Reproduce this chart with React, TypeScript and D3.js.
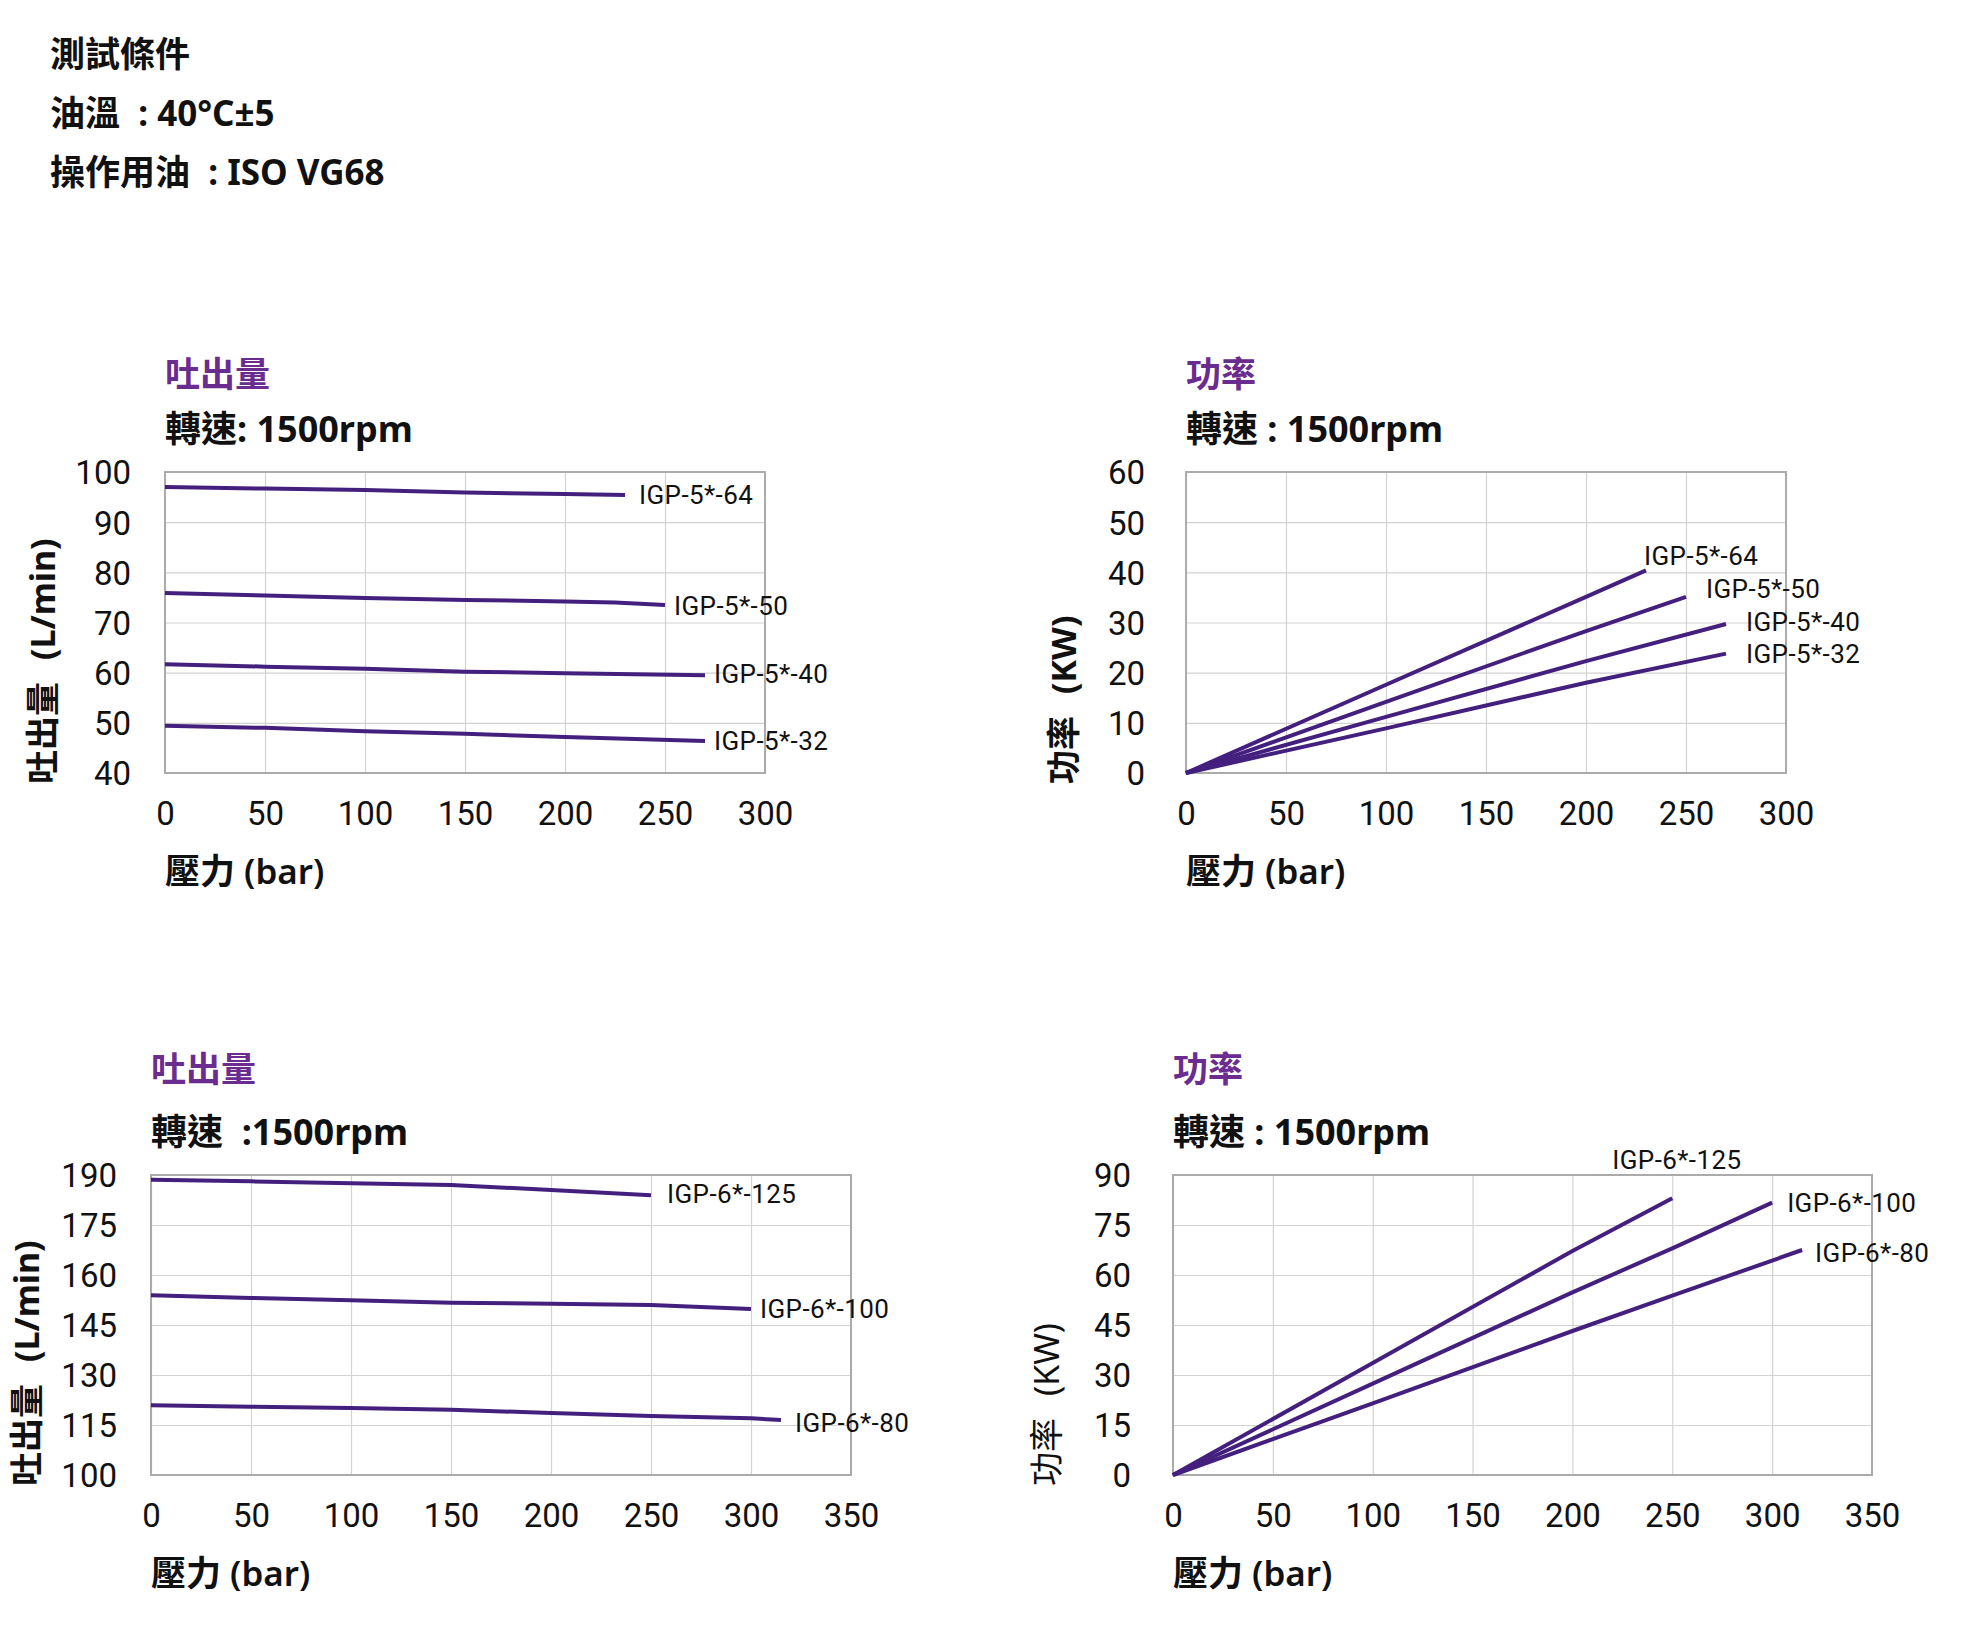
import React, { useEffect, useRef } from "react";
import * as d3 from "d3";

type Pt = [number, number];

// header text
const conditionLines = ["測試條件", "油溫  : 40°C±5", "操作用油  : ISO VG68"];

// tick values
const pressureTicks300 = [0, 50, 100, 150, 200, 250, 300];
const pressureTicks350 = [0, 50, 100, 150, 200, 250, 300, 350];
const flowTicks5 = [40, 50, 60, 70, 80, 90, 100];
const powerTicks5 = [0, 10, 20, 30, 40, 50, 60];
const flowTicks6 = [100, 115, 130, 145, 160, 175, 190];
const powerTicks6 = [0, 15, 30, 45, 60, 75, 90];

const seriesNames5 = ["IGP-5*-64", "IGP-5*-50", "IGP-5*-40", "IGP-5*-32"];
const seriesNames6 = ["IGP-6*-125", "IGP-6*-100", "IGP-6*-80"];

// discharge (L/min) vs pressure (bar), IGP-5
const flow5_64: Pt[] = [[0, 97], [50, 96.7], [100, 96.4], [150, 95.9], [200, 95.6], [230, 95.4]];
const flow5_50: Pt[] = [[0, 75.9], [50, 75.4], [100, 74.9], [150, 74.5], [200, 74.2], [225, 74.0], [250, 73.5]];
const flow5_40: Pt[] = [[0, 61.7], [50, 61.2], [100, 60.8], [150, 60.2], [200, 59.9], [270, 59.5]];
const flow5_32: Pt[] = [[0, 49.4], [50, 49.0], [100, 48.3], [150, 47.8], [200, 47.2], [270, 46.4]];

// power (KW) vs pressure (bar), IGP-5
const power5_64: Pt[] = [[0, 0], [100, 17.6], [200, 35.1], [230, 40.4]];
const power5_50: Pt[] = [[0, 0], [100, 14.2], [200, 28.3], [250, 35.1]];
const power5_40: Pt[] = [[0, 0], [100, 11.2], [200, 22.3], [270, 29.7]];
const power5_32: Pt[] = [[0, 0], [100, 8.9], [200, 18.0], [270, 23.8]];

// discharge (L/min) vs pressure (bar), IGP-6
const flow6_125: Pt[] = [[0, 188.6], [50, 188.1], [100, 187.5], [150, 187.0], [200, 185.5], [250, 183.9]];
const flow6_100: Pt[] = [[0, 153.9], [50, 153.1], [100, 152.4], [150, 151.7], [200, 151.4], [250, 151.0], [300, 149.8]];
const flow6_80: Pt[] = [[0, 120.9], [50, 120.5], [100, 120.1], [150, 119.6], [200, 118.6], [250, 117.7], [300, 117.0], [315, 116.5]];

// power (KW) vs pressure (bar), IGP-6
const power6_125: Pt[] = [[0, 0], [100, 33.6], [200, 67.2], [250, 83.0]];
const power6_100: Pt[] = [[0, 0], [100, 27.4], [200, 54.8], [250, 68.0], [300, 81.7]];
const power6_80: Pt[] = [[0, 0], [100, 21.5], [200, 43.2], [250, 53.8], [315, 67.5]];

const CJK = '"Noto Sans", "Noto Sans CJK TC", sans-serif';
const NUM = 'Roboto, "Noto Sans", sans-serif';
const LINE_COLOR = "#44207e";
const TITLE_COLOR = "#6a2c8e";

interface Panel {
  title: string;
  speed: string;
  yName: string;
  yUnit: string;
  yBold: boolean;
  left: number;
  top: number;
  width: number;
  height: number;
  xTicks: number[];
  yTicks: number[];
  names: string[];
  series: Pt[][];
  labelOffsets: Pt[];
  titleGap: number;
  tickGap: number;
  yLabelX: number;
}

const panels: Panel[] = [
  {
    title: "吐出量", speed: "轉速: 1500rpm", yName: "吐出量", yUnit: "(L/min)", yBold: true,
    left: 165, top: 472, width: 600, height: 301,
    xTicks: pressureTicks300, yTicks: flowTicks5, names: seriesNames5,
    series: [flow5_64, flow5_50, flow5_40, flow5_32],
    labelOffsets: [[14, 0], [9, 1], [9, -1], [9, 0]],
    titleGap: 85, tickGap: 34, yLabelX: 43,
  },
  {
    title: "功率", speed: "轉速 : 1500rpm", yName: "功率", yUnit: "(KW)", yBold: true,
    left: 1186, top: 472, width: 600, height: 301,
    xTicks: pressureTicks300, yTicks: powerTicks5, names: seriesNames5,
    series: [power5_64, power5_50, power5_40, power5_32],
    labelOffsets: [[-2, -14], [20, -8], [20, -2], [20, 0]],
    titleGap: 85, tickGap: 41, yLabelX: 1064,
  },
  {
    title: "吐出量", speed: "轉速  :1500rpm", yName: "吐出量", yUnit: "(L/min)", yBold: true,
    left: 151, top: 1175, width: 700, height: 300,
    xTicks: pressureTicks350, yTicks: flowTicks6, names: seriesNames6,
    series: [flow6_125, flow6_100, flow6_80],
    labelOffsets: [[16, -1], [9, 0], [14, 3]],
    titleGap: 93, tickGap: 34, yLabelX: 27,
  },
  {
    title: "功率", speed: "轉速 : 1500rpm", yName: "功率", yUnit: "(KW)", yBold: false,
    left: 1173, top: 1175, width: 699, height: 300,
    xTicks: pressureTicks350, yTicks: powerTicks6, names: seriesNames6,
    series: [power6_125, power6_100, power6_80],
    labelOffsets: [[-60, -38], [15, 0], [13, 3]],
    titleGap: 93, tickGap: 42, yLabelX: 1047,
  },
];

function drawPanel(root: d3.Selection<SVGSVGElement, unknown, null, undefined>, p: Panel) {
  const x = d3
    .scaleLinear()
    .domain([p.xTicks[0], p.xTicks[p.xTicks.length - 1]])
    .range([p.left, p.left + p.width]);
  const y = d3
    .scaleLinear()
    .domain([p.yTicks[0], p.yTicks[p.yTicks.length - 1]])
    .range([p.top + p.height, p.top]);
  const bottom = p.top + p.height;

  const g = root.append("g");

  // vertical grid + x tick labels
  const xAxis = g
    .append("g")
    .attr("transform", `translate(0,${bottom})`)
    .call(d3.axisBottom(x).tickValues(p.xTicks).tickSize(-p.height).tickFormat((d) => String(d)));
  xAxis.select(".domain").remove();
  xAxis.selectAll(".tick line").attr("stroke", "#d2d2d2").attr("stroke-width", 1.2);
  xAxis
    .selectAll(".tick text")
    .attr("y", 52)
    .attr("dy", null)
    .style("font-family", NUM)
    .style("font-size", "33px")
    .attr("fill", "#111");

  // horizontal grid + y tick labels
  const yAxis = g
    .append("g")
    .attr("transform", `translate(${p.left},0)`)
    .call(d3.axisLeft(y).tickValues(p.yTicks).tickSize(-p.width).tickFormat((d) => String(d)));
  yAxis.select(".domain").remove();
  yAxis.selectAll(".tick line").attr("stroke", "#d2d2d2").attr("stroke-width", 1.2);
  yAxis
    .selectAll(".tick text")
    .attr("x", -p.tickGap)
    .attr("dy", "0.36em")
    .style("font-family", NUM)
    .style("font-size", "33px")
    .attr("fill", "#111");

  // plot frame
  g.append("rect")
    .attr("x", p.left)
    .attr("y", p.top)
    .attr("width", p.width)
    .attr("height", p.height)
    .attr("fill", "none")
    .attr("stroke", "#ababab")
    .attr("stroke-width", 2);

  // series lines
  const line = d3
    .line<Pt>()
    .x((d) => x(d[0]))
    .y((d) => y(d[1]));

  g.selectAll(".series")
    .data(p.series)
    .join("path")
    .attr("class", "series")
    .attr("d", (d) => line(d))
    .attr("fill", "none")
    .attr("stroke", LINE_COLOR)
    .attr("stroke-width", 4);

  // series labels at line ends
  g.selectAll(".series-label")
    .data(p.series)
    .join("text")
    .attr("class", "series-label")
    .attr("x", (d, i) => x(d[d.length - 1][0]) + p.labelOffsets[i][0])
    .attr("y", (d, i) => y(d[d.length - 1][1]) + p.labelOffsets[i][1])
    .attr("dy", "0.35em")
    .style("font-family", NUM)
    .style("font-size", "26px")
    .style("letter-spacing", "0.4px")
    .attr("fill", "#111")
    .text((d, i) => p.names[i]);

  // titles
  g.append("text")
    .attr("x", p.left)
    .attr("y", p.top - p.titleGap)
    .style("font-family", CJK)
    .style("font-size", "35px")
    .style("font-weight", 700)
    .attr("fill", TITLE_COLOR)
    .text(p.title);

  g.append("text")
    .attr("x", p.left)
    .attr("y", p.top - 30)
    .style("font-family", CJK)
    .style("font-size", "36px")
    .style("font-weight", 700)
    .style("white-space", "pre")
    .attr("fill", "#111")
    .text(p.speed);

  // x axis title
  g.append("text")
    .attr("x", p.left)
    .attr("y", bottom + 111)
    .style("font-family", CJK)
    .style("font-size", "35px")
    .style("font-weight", 600)
    .attr("fill", "#111")
    .text("壓力 (bar)");

  // y axis title (rotated)
  const yt = g
    .append("text")
    .attr("transform", `translate(${p.yLabelX},${bottom + 11}) rotate(-90)`)
    .attr("dy", "0.35em")
    .style("font-family", CJK)
    .style("font-size", "34px")
    .style("font-weight", p.yBold ? 700 : 400)
    .attr("fill", "#111");
  yt.append("tspan").text(p.yName);
  yt.append("tspan").attr("dx", 22).text(p.yUnit);
}

const App: React.FC = () => {
  const svgRef = useRef<SVGSVGElement>(null);

  useEffect(() => {
    if (!svgRef.current) return;
    const svg = d3.select(svgRef.current);
    svg.selectAll("*").remove();

    svg
      .append("rect")
      .attr("width", 1984)
      .attr("height", 1628)
      .attr("fill", "#fff");

    // test conditions block
    svg
      .append("g")
      .selectAll("text")
      .data(conditionLines)
      .join("text")
      .attr("x", 50)
      .attr("y", (d, i) => 67 + i * 59)
      .style("font-family", CJK)
      .style("font-size", "35px")
      .style("font-weight", 700)
      .style("white-space", "pre")
      .attr("fill", "#111")
      .text((d) => d);

    panels.forEach((p) => drawPanel(svg, p));
  }, []);

  return (
    <div style={{ position: "absolute", left: 0, top: 0 }}>
      <svg ref={svgRef} width={1984} height={1628} style={{ display: "block" }}></svg>
    </div>
  );
};

export default App;
